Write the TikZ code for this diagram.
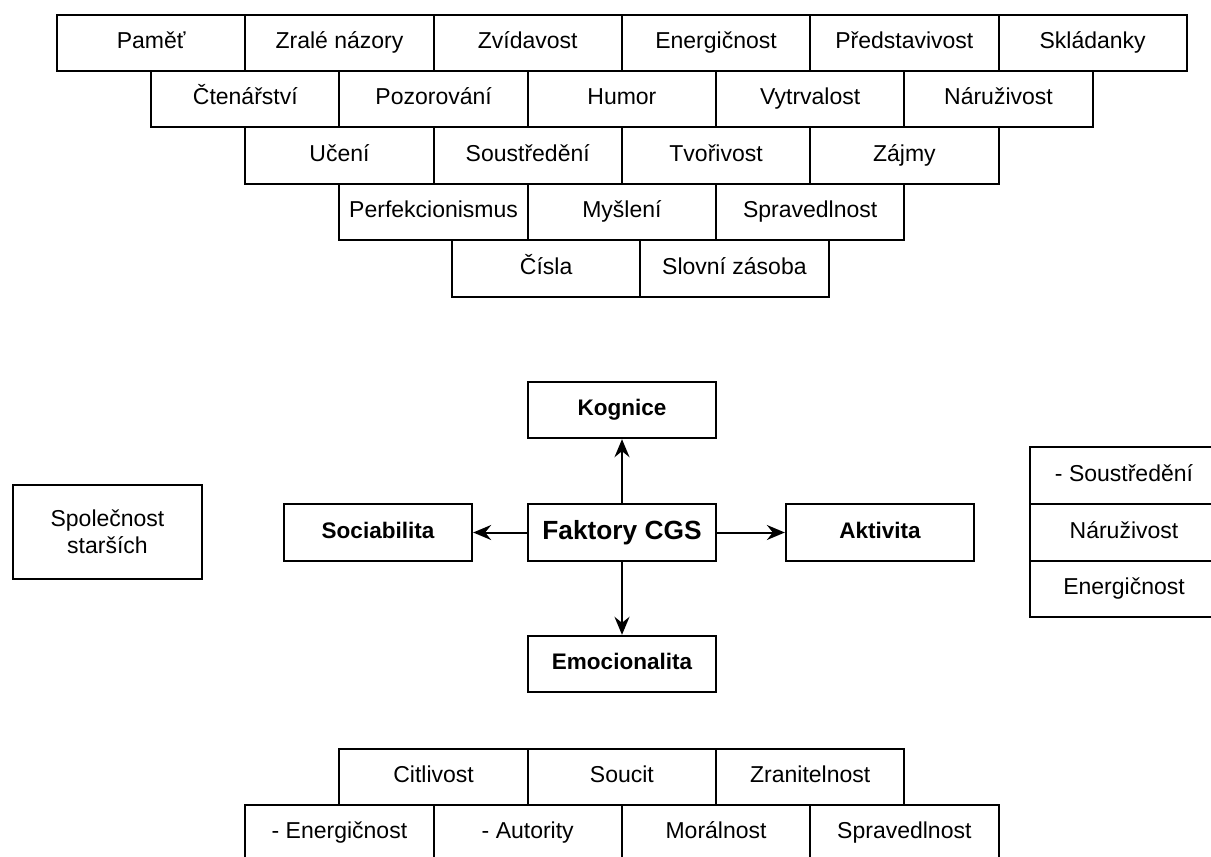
\documentclass[tikz,border=0pt]{standalone}
\usepackage{fontspec}
\setmainfont{Liberation Sans}
\usetikzlibrary{arrows.meta}

\tikzset{
  cell/.style={draw=black, line width=2pt, rectangle,
    minimum width=188.3pt, minimum height=56.4pt, inner sep=0pt,
    text height=16pt, text depth=5pt,
    font=\fontsize{23pt}{27pt}\selectfont, text=black},
  factor/.style={cell, font=\fontsize{22.5pt}{27pt}\selectfont\bfseries},
  hub/.style={cell, text height=19pt, text depth=6pt,
    font=\fontsize{26.3pt}{31pt}\selectfont\bfseries},
  note/.style={draw=black, line width=2pt, rectangle, inner sep=0pt,
    minimum width=189pt, minimum height=94pt, align=center,
    font=\fontsize{23pt}{27pt}\selectfont, text=black},
  arr/.style={draw=black, line width=2pt,
    -{Stealth[length=18pt, width=15pt, inset=6pt]}}
}

\begin{document}
\begin{tikzpicture}[x=1pt, y=-1pt]
\clip (0,0) rectangle (1211,857);
\fill[white] (0,0) rectangle (1211,857);

% stacked trait rows (top)
\node[cell] (pamet)    at (151.15,43) {Paměť};
\node[cell] (zrale)    at (339.45,43) {Zralé názory};
\node[cell] (zvid)     at (527.75,43) {Zvídavost};
\node[cell] (energ)    at (716.05,43) {Energičnost};
\node[cell] (predst)   at (904.35,43) {Představivost};
\node[cell] (sklad)    at (1092.65,43) {Skládanky};

\node[cell] (cten)     at (245.3,99) {Čtenářství};
\node[cell] (pozor)    at (433.6,99) {Pozorování};
\node[cell] (humor)    at (621.9,99) {Humor};
\node[cell] (vytrv)    at (810.2,99) {Vytrvalost};
\node[cell] (naruz)    at (998.5,99) {Náruživost};

\node[cell] (uceni)    at (339.45,155.5) {Učení};
\node[cell] (soust)    at (527.75,155.5) {Soustředění};
\node[cell] (tvor)     at (716.05,155.5) {Tvořivost};
\node[cell] (zajmy)    at (904.35,155.5) {Zájmy};

\node[cell] (perf)     at (433.6,212) {Perfekcionismus};
\node[cell] (mysl)     at (621.9,212) {Myšlení};
\node[cell] (sprav)    at (810.2,212) {Spravedlnost};

\node[cell] (cisla)    at (546.1,268.5) {Čísla};
\node[cell] (slovni)   at (734.4,268.5) {Slovní zásoba};

% factor hub
\node[hub]    (faktory)  at (622,532.5) {Faktory CGS};
\node[factor] (kognice)  at (622,410)   {Kognice};
\node[factor] (emoc)     at (622,664)   {Emocionalita};
\node[factor] (sociab)   at (378,532.5) {Sociabilita};
\node[factor] (aktiv)    at (880,532.5) {Aktivita};

\draw[arr] (faktory) -- (kognice);
\draw[arr] (faktory) -- (emoc);
\draw[arr] (faktory) -- (sociab);
\draw[arr] (faktory) -- (aktiv);

% side notes
\node[note] (spolec) at (107.5,532) {Společnost\\starších};

\node[cell] (rsoust) at (1124,475.5) {- Soustředění};
\node[cell] (rnaruz) at (1124,532.5) {Náruživost};
\node[cell] (renerg) at (1124,589)   {Energičnost};

% emotional traits (bottom)
\node[cell] (citl)   at (433.6,777) {Citlivost};
\node[cell] (soucit) at (621.9,777) {Soucit};
\node[cell] (zranit) at (810.2,777) {Zranitelnost};

\node[cell] (benerg) at (339.45,833) {- Energičnost};
\node[cell] (autor)  at (527.75,833) {- Autority};
\node[cell] (moral)  at (716.05,833) {Morálnost};
\node[cell] (bsprav) at (904.35,833) {Spravedlnost};
\end{tikzpicture}
\end{document}
